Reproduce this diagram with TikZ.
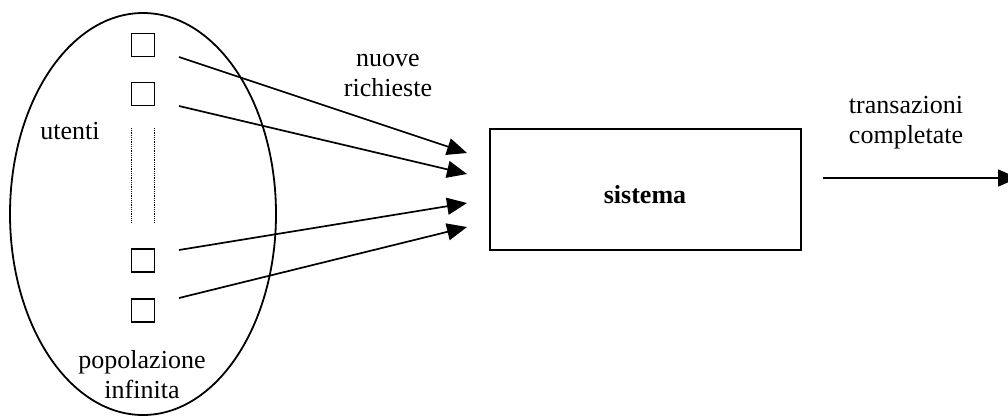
\documentclass[tikz,border=0pt]{standalone}
\usepackage{fontspec}
\setmainfont{Liberation Serif}
\usetikzlibrary{arrows.meta,shapes.geometric}
\begin{document}
\begin{tikzpicture}[x=1pt,y=-1pt,
  stroke/.style={line width=1.8pt},
  user/.style={draw,line width=1.5pt,minimum size=23pt,inner sep=0pt},
  flow/.style={line width=1.7pt,-{Triangle[length=20pt,width=17pt]}},
  lbl/.style={font=\fontsize{26}{30}\selectfont,inner sep=0pt,align=center},
  dots/.style={line width=0.8pt,dash pattern=on 0.9pt off 0.9pt}]
\useasboundingbox (0,0) rectangle (1008,416);
\clip (0,0) rectangle (1008,416);

% infinite population of users
\node[draw,stroke,ellipse,minimum width=266pt,minimum height=402pt,inner sep=0pt] (pop) at (143,214) {};
\node[user] (u1) at (143,45) {};
\node[user] (u2) at (143,94) {};
\node[user] (u3) at (143,260.5) {};
\node[user] (u4) at (143,310.5) {};
\coordinate (d1a) at (131,128);
\coordinate (d1b) at (131,223);
\coordinate (d2a) at (154,128);
\coordinate (d2b) at (154,223);
\draw[dots] (d1a) -- (d1b);
\draw[dots] (d2a) -- (d2b);
\node[lbl,anchor=base] (ut) at (70,139) {utenti};
\node[lbl,anchor=base] (pl1) at (142,368) {popolazione};
\node[lbl,anchor=base] (pl2) at (142,398) {infinita};

% the system
\node[draw,stroke,minimum width=311pt,minimum height=121pt,inner sep=0pt] (sys) at (645.5,189.5) {};
\node[lbl,anchor=base,font=\fontsize{26}{30}\selectfont\bfseries] (syst) at (645,203) {sistema};

% arrivals
\coordinate (s1) at ([xshift=36pt,yshift=-12pt]u1.center);
\coordinate (s2) at ([xshift=36pt,yshift=-12pt]u2.center);
\coordinate (s3) at ([xshift=36pt,yshift=10.5pt]u3.center);
\coordinate (s4) at ([xshift=36pt,yshift=12.5pt]u4.center);
\coordinate (t1) at (467,153);
\coordinate (t2) at (467,174);
\coordinate (t3) at (467,203);
\coordinate (t4) at (467,227);
\draw[flow] (s1) -- (t1);
\draw[flow] (s2) -- (t2);
\draw[flow] (s3) -- (t3);
\draw[flow] (s4) -- (t4);
\node[lbl,anchor=base] (nr1) at (388,66) {nuove};
\node[lbl,anchor=base] (nr2) at (388,96) {richieste};

% departures
\coordinate (o1) at (823,178);
\coordinate (o2) at (1018,178);
\draw[flow] (o1) -- (o2);
\node[lbl,anchor=base] (tc1) at (906,113) {transazioni};
\node[lbl,anchor=base] (tc2) at (906,143) {completate};
\end{tikzpicture}
\end{document}
